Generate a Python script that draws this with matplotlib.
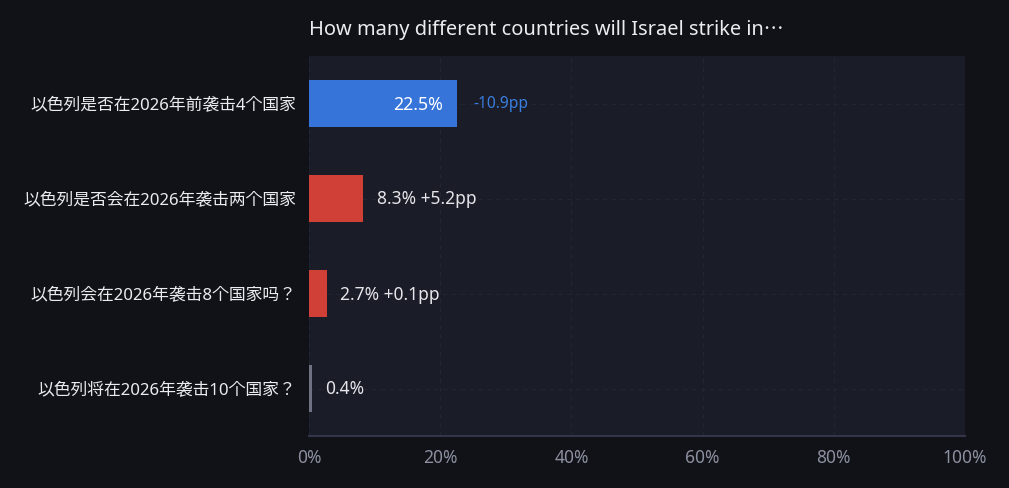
import matplotlib
matplotlib.use("Agg")
import matplotlib.pyplot as plt

plt.rcParams['font.family'] = ['Noto Sans', 'Noto Sans CJK JP', 'DejaVu Sans']

labels = ['以色列是否在2026年前袭击4个国家', '以色列是否会在2026年袭击两个国家',
          '以色列会在2026年袭击8个国家吗？', '以色列将在2026年袭击10个国家？']
values = [22.5, 8.3, 2.7, 0.4]
deltas = ['-10.9pp', '+5.2pp', '+0.1pp', '']
colors = ['#3674d9', '#d04037', '#d04037', '#6e7282']
ticks = [0, 20, 40, 60, 80, 100]

fig = plt.figure(figsize=(10.09, 4.89), dpi=100, facecolor='#111217')
ax = fig.add_axes([309/1009, 1-437/489, 656/1009, 380/489])
ax.set_facecolor('#1a1c27')

y = range(len(values))
ax.barh(y, values, height=0.5, color=colors, zorder=3)
ax.set_xlim(0, 100)
ax.set_ylim(3.5, -0.5)

for i, v in enumerate(values):
    if i == 0:
        ax.text(v - 2.1, i, f'{v}%', color='white', fontsize=12.8, va='center', ha='right', zorder=4)
        ax.text(v + 2.6, i, deltas[i], color='#3a7ee0', fontsize=11.2, va='center', ha='left', zorder=4)
    else:
        txt = f'{v}%' + (' ' + deltas[i] if deltas[i] else '')
        ax.text(v + 2.0, i, txt, color='#e6e6ea', fontsize=12.5, va='center', ha='left', zorder=4)

ax.set_yticks(list(y))
ax.set_yticklabels(labels, color='#ececf0', fontsize=12.1)
ax.set_xticks(ticks)
ax.set_xticklabels([f'{t}%' for t in ticks], color='#8b90a0', fontsize=12.5)
ax.tick_params(axis='y', length=0, pad=9)
ax.tick_params(axis='x', length=0, pad=9)

ax.grid(True, color='#222533', linestyle=(0, (4, 4)), linewidth=0.8, zorder=0)
for s in ['top', 'right', 'left']:
    ax.spines[s].set_visible(False)
ax.spines['bottom'].set_color('#33364a')
ax.spines['bottom'].set_linewidth(1.5)

fig.text(309/1009, 1-30/489, 'How many different countries will Israel strike in⋯',
         color='#ececf0', fontsize=14.4, va='center', ha='left')

fig.savefig('out.png', dpi=100, facecolor=fig.get_facecolor())
